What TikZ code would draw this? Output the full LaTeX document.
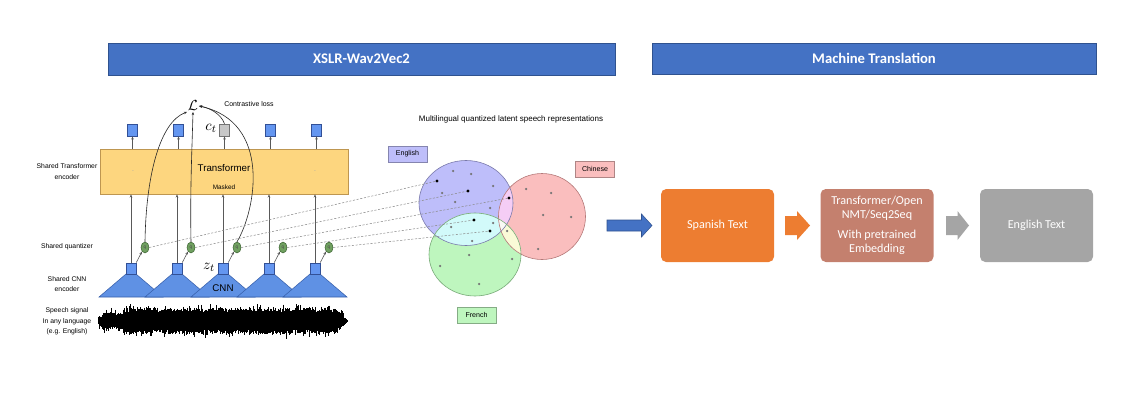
\documentclass[tikz,border=0pt]{standalone}
\usepackage[no-math]{fontspec}
\setmainfont{Liberation Sans}
\newfontfamily\carl{Carlito}
\usetikzlibrary{shapes.geometric,arrows.meta}
\definecolor{hdr}{RGB}{68,114,196}
\definecolor{hdrb}{RGB}{47,82,143}
\definecolor{tfill}{RGB}{253,214,127}
\definecolor{tborder}{RGB}{190,150,80}
\definecolor{sqfill}{RGB}{100,150,240}
\definecolor{sqborder}{RGB}{50,80,150}
\definecolor{trifill}{RGB}{95,145,228}
\definecolor{triborder}{RGB}{55,95,170}
\definecolor{qfill}{RGB}{112,160,96}
\definecolor{qborder}{RGB}{60,100,50}
\definecolor{engf}{RGB}{190,190,250}
\definecolor{engb}{RGB}{120,120,170}
\definecolor{chif}{RGB}{250,190,190}
\definecolor{chib}{RGB}{180,120,120}
\definecolor{frf}{RGB}{190,246,190}
\definecolor{frb}{RGB}{120,170,120}
\definecolor{efc}{RGB}{210,250,250}
\definecolor{ecc}{RGB}{245,205,245}
\definecolor{fcc}{RGB}{250,250,215}
\definecolor{allc}{RGB}{250,250,245}
\definecolor{spanish}{RGB}{237,125,49}
\definecolor{mtc}{RGB}{196,128,110}
\definecolor{engtext}{RGB}{165,165,165}
\begin{document}
\begin{tikzpicture}[x=0.75pt,y=-0.75pt,
  hdr/.style={draw=hdrb,fill=hdr,text=white,line width=0.6pt,
    font=\carl\bfseries\fontsize{11}{13}\selectfont,inner sep=0pt},
  lbl/.style={font=\fontsize{5.1}{8}\selectfont,align=center,inner sep=0pt},
  sq/.style={draw=sqborder,fill=sqfill,line width=0.4pt,inner sep=0pt,minimum width=7.5pt,minimum height=8.5pt},
  qnode/.style={ellipse,draw=qborder,fill=qfill,line width=0.4pt,inner sep=0pt,
    minimum width=6pt,minimum height=8.2pt,font=\fontsize{3.5}{4}\selectfont,text=black!70},
  arr/.style={-{Stealth[length=2.4pt,width=1.9pt]},draw=black!65,line width=0.45pt},
  carr/.style={-{Stealth[length=2.4pt,width=1.9pt]},draw=black!85,line width=0.45pt},
  dsh/.style={draw=black!45,dashed,dash pattern=on 1.6pt off 1.2pt,line width=0.4pt},
  lab/.style={draw=#1!70!black,fill=#1,line width=0.4pt,inner sep=0pt,
    minimum width=29.5pt,minimum height=12pt,font=\fontsize{5.3}{6}\selectfont},
  mtbox/.style={rounded corners=4pt,text=white,inner sep=0pt,minimum width=84.75pt,
    minimum height=54.75pt,align=center,font=\carl\fontsize{9.1}{10.5}\selectfont},
  wave/.style={line width=0.8pt,black}]
\useasboundingbox (0,0) rectangle (1145,414);

% headers
\node[hdr,minimum width=380.25pt,minimum height=24pt] (h1) at (361.5,59) {XSLR-Wav2Vec2};
\node[hdr,minimum width=333pt,minimum height=23.25pt] (h2) at (874,58.5) {Machine Translation};

% left labels
\node[lbl] (l1) at (67,171.5) {Shared Transformer\\encoder};
\node[lbl] (l2) at (67,247) {Shared quantizer};
\node[lbl] (l3) at (67,284) {Shared CNN\\encoder};
\node[lbl] (l4) at (67,321.5) {Speech signal\\In any language\\(e.g. English)};

% transformer box
\node[draw=tborder,fill=tfill,line width=0.5pt,minimum width=186pt,minimum height=33.75pt,inner sep=0pt] (T) at (224,171.5) {};
\node[font=\fontsize{7.3}{8}\selectfont,inner sep=0pt] (tt) at (224,168) {Transformer};
\node[font=\fontsize{4.8}{5}\selectfont,inner sep=0pt] (mk) at (224,187) {Masked};
\node[font=\fontsize{4}{5}\selectfont,text=black!35,inner sep=0pt] (m1) at (133,172) {-};
\node[font=\fontsize{4}{5}\selectfont,text=black!35,inner sep=0pt] (m2) at (315,172) {-};

% top squares
\foreach \i in {1,...,5}{
  \pgfmathsetmacro\xx{132.5+46*(\i-1)}
  \ifnum\i=3
    \node[sq,fill=black!22,draw=black!55,minimum height=9pt] (t\i) at (\xx,130) {};
  \else
    \node[sq,minimum height=9pt] (t\i) at (\xx,130) {};
  \fi
  \draw[arr] (t\i.south |- T.north) -- (t\i.south);
}

% CNN trapezoids and squares
\foreach \i in {1,...,5}{
  \pgfmathsetmacro\xx{131+46*(\i-1)}
  \draw[fill=trifill,draw=triborder,line width=0.4pt] (\xx-5,274) -- (\xx+5,274) -- (\xx+32,297) -- (\xx-32,297) -- cycle;
  \node[sq] (c\i) at (\xx,268.5) {};
}
\foreach \i in {1,...,5}{
  \pgfmathsetmacro\xx{131+46*(\i-1)}
  \draw[arr] (c\i.north) -- (c\i.north |- T.south);
  \node[qnode] (q\i) at (\xx+14,247.5) {q};
  \draw[arr] (c\i.north east) -- (q\i.south west);
}
\node[font=\fontsize{7.3}{8}\selectfont,inner sep=0pt] (cnn) at (223,288) {CNN};
\node[font=\fontsize{11}{12}\selectfont,inner sep=0pt] (zt) at (209,267) {$z_t$};
\node[font=\fontsize{11}{12}\selectfont,inner sep=0pt] (ct) at (211,128) {$c_t$};

% contrastive loss
\node[font=\fontsize{11}{12}\selectfont,inner sep=0.5pt] (L) at (193,106) {$\mathcal{L}$};
\node[font=\fontsize{5.2}{6}\selectfont,inner sep=0pt] (cl) at (249,104) {Contrastive loss};
\draw[carr] (q1.north) .. controls (146,175) and (160,122) .. (L.south west);
\draw[carr] (q2.north) .. controls (190,190) and (192,150) .. (L.south);
\draw[carr] (q3.north) .. controls (256,210) and (272,122) .. (L.east);
\draw[carr] (t3.north) .. controls (221,114) and (210,108) .. (L.east);

% waveform
\pgfmathsetseed{7}
\foreach \x in {98.5,99.1,...,347.6}{
  \pgfmathsetmacro\e{\x<104 ? 3.5+0.7*(\x-98) : (\x<123 ? 8 : (\x<336 ? 12 : max(1,12-(\x-336)*0.95)))}
  \pgfmathsetmacro\u{\e*(0.7+0.4*rnd)+5*pow(rnd,8)}
  \pgfmathsetmacro\d{\e*(0.7+0.4*rnd)+5*pow(rnd,8)}
  \draw[wave] (\x,321-\u) -- (\x,321+\d);
}

% Venn diagram
\node[font=\fontsize{6}{7}\selectfont,inner sep=0pt] (mq) at (511,119) {Multilingual quantized latent speech representations};
\fill[engf] (466,203) ellipse [x radius=47,y radius=42.5];
\fill[chif] (542,216.5) ellipse [x radius=43.5,y radius=43];
\fill[frf] (475,254.5) ellipse [x radius=46,y radius=41.5];
\begin{scope}
  \clip (466,203) ellipse [x radius=47,y radius=42.5];
  \fill[efc] (475,254.5) ellipse [x radius=46,y radius=41.5];
  \fill[ecc] (542,216.5) ellipse [x radius=43.5,y radius=43];
\end{scope}
\begin{scope}
  \clip (475,254.5) ellipse [x radius=46,y radius=41.5];
  \fill[fcc] (542,216.5) ellipse [x radius=43.5,y radius=43];
\end{scope}
\begin{scope}
  \clip (466,203) ellipse [x radius=47,y radius=42.5];
  \clip (475,254.5) ellipse [x radius=46,y radius=41.5];
  \fill[allc] (542,216.5) ellipse [x radius=43.5,y radius=43];
\end{scope}
\draw[engb,line width=0.45pt] (466,203) ellipse [x radius=47,y radius=42.5];
\draw[chib,line width=0.45pt] (542,216.5) ellipse [x radius=43.5,y radius=43];
\draw[frb,line width=0.45pt] (475,254.5) ellipse [x radius=46,y radius=41.5];

\node[lab=engf] (le) at (407.5,154) {English};
\node[lab=chif] (lc) at (595,169) {Chinese};
\node[lab=frf] (lf) at (476.5,315) {French};

\foreach \p in {(453,171),(471,174),(442,193),(493,186),(455,202),(490,208),(451,227),(493,223),(472,241),(507,231),(526,189),(551,193),(543,215),(571,217),(538,249),(469,255),(440,266),(512,259),(479,284)}
  \fill[black!55] \p circle (1.25);

\coordinate (d1) at (437,181);
\coordinate (d2) at (468,191);
\coordinate (d3) at (509,198);
\coordinate (d4) at (474,220);
\coordinate (d5) at (490,231);
\foreach \i in {1,...,5}{
  \draw[dsh] (q\i.east) -- (d\i);
  \fill[black] (d\i) circle (1.7);
}

% machine translation pipeline
\draw[fill=hdr,draw=hdrb,line width=0.4pt] (607,220) -- (641.5,220) -- (641.5,214) -- (652,225.5) -- (641.5,237) -- (641.5,231) -- (607,231) -- cycle;
\node[mtbox,fill=spanish] (sp) at (717.5,225.5) {Spanish Text};
\fill[spanish] (785,216) -- (797,216) -- (797,211) -- (810,225.5) -- (797,240) -- (797,235) -- (785,235) -- cycle;
\node[mtbox,fill=mtc] (mt) at (877,225.5) {Transformer/Open\\NMT/Seq2Seq\\[4.5pt]With pretrained\\Embedding};
\fill[engtext] (946,216) -- (957.5,216) -- (957.5,211) -- (969,225.5) -- (957.5,240) -- (957.5,235) -- (946,235) -- cycle;
\node[mtbox,fill=engtext] (en) at (1036.5,225.5) {English Text};
\end{tikzpicture}
\end{document}
